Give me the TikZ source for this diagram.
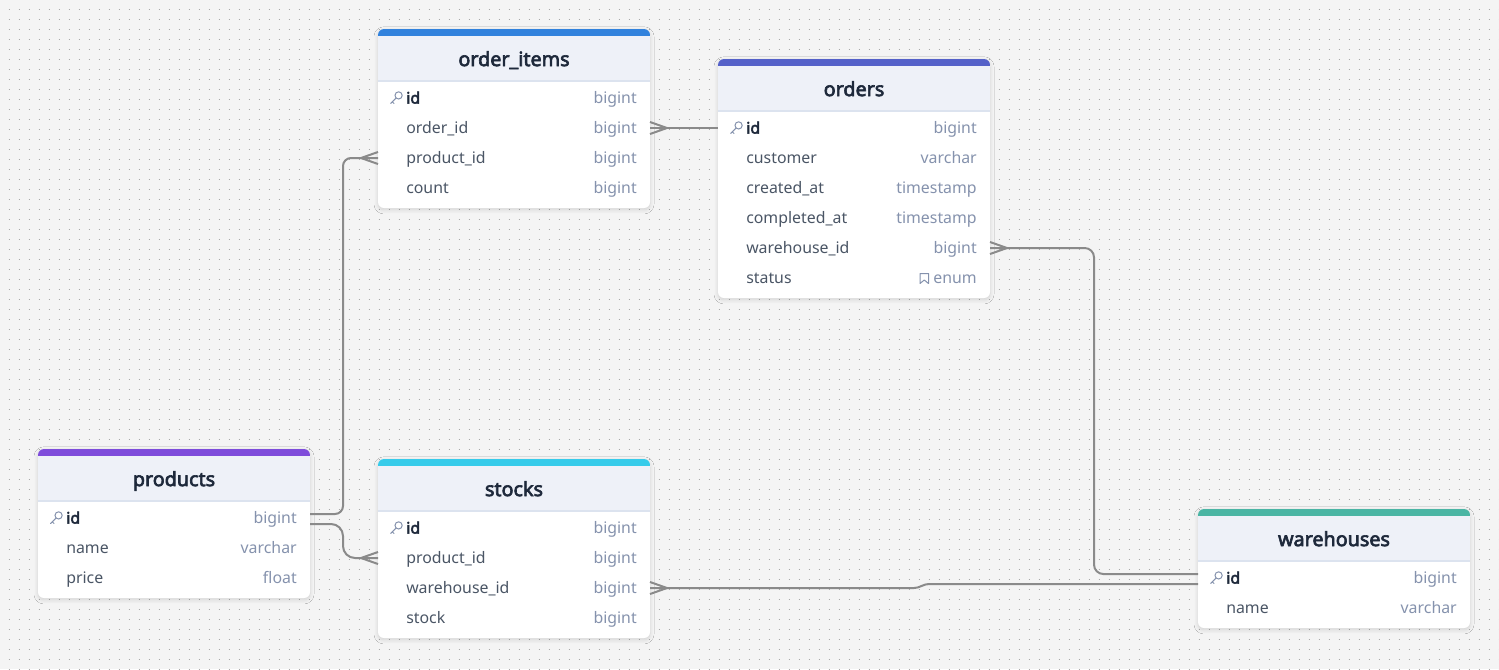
\documentclass[tikz,border=0pt]{standalone}
\usepackage{fontspec}
\setmainfont{Noto Sans}[AutoFakeBold=3.2]
\usetikzlibrary{shadows.blur}

\definecolor{canvasbg}{HTML}{F4F4F4}
\definecolor{dotcol}{HTML}{A8A8A8}
\definecolor{headbg}{HTML}{EEF1F8}
\definecolor{sepcol}{HTML}{DCE3EF}
\definecolor{titlecol}{HTML}{1E293B}
\definecolor{fieldcol}{HTML}{4A5565}
\definecolor{typecol}{HTML}{8592AD}
\definecolor{linkcol}{HTML}{8A8A8A}
\definecolor{oiblue}{HTML}{3182DD}
\definecolor{ordindigo}{HTML}{5461C9}
\definecolor{prodpurple}{HTML}{7E4CDB}
\definecolor{stkcyan}{HTML}{36CBEA}
\definecolor{whteal}{HTML}{4AB5A4}

\begin{document}
\begin{tikzpicture}[
        x=0.75pt, y=-0.75pt,
        tablebox/.style={fill=white, rounded corners=4.5pt,
            blur shadow={shadow xshift=0pt, shadow yshift=-1.4pt,
                shadow blur radius=3pt, shadow blur steps=8, shadow opacity=14}},
        tabletitle/.style={anchor=mid, inner sep=0pt, text=titlecol,
            font=\fontsize{14.8}{17}\selectfont\bfseries},
        fname/.style={anchor=mid west, inner sep=0pt, text=fieldcol,
            font=\fontsize{11.9}{14}\selectfont},
        pkname/.style={fname, text=titlecol, font=\fontsize{11.9}{14}\selectfont\bfseries},
        ftype/.style={anchor=mid east, inner sep=0pt, text=typecol,
            font=\fontsize{11.9}{14}\selectfont},
        link/.style={draw=linkcol, line width=1.5pt},
        keyicon/.pic={
            \draw[typecol, line width=0.75pt] (20.6,-2.6) circle (3.6);
            \draw[typecol, line width=0.75pt, line cap=round] (18.1,0) -- (12.6,5.5) (14.3,3.8) -- (16,5.5);
        }
        ]
    \useasboundingbox (0,0) rectangle (1499,669);
    \fill[canvasbg] (0,0) rectangle (1499,669);
    % dotted canvas
    \foreach \y in {9,19,...,669}
        \draw[dotcol, line width=0.75pt, dash pattern=on 0.75pt off 6.75pt] (8.5,\y) -- (1499,\y);

    % order_items
    \begin{scope}[shift={(378,29)}]
        \path[tablebox] (0,0) rectangle (272,179);
        \begin{scope}
            \clip[rounded corners=4.5pt] (0,0) rectangle (272,179);
            \fill[oiblue] (0,0) rectangle (272,7);
            \fill[headbg] (0,7) rectangle (272,52);
            \draw[sepcol, line width=1.2pt] (0,52) -- (272,52);
        \end{scope}
        \node[tabletitle] (oi-title) at (136,33.5) {order\_items};
        \pic at (0,69) {keyicon};
        \node[pkname] (oi-id) at (28,71) {id};
        \node[ftype] (oi-id-t) at (259,71) {bigint};
        \node[fname] (oi-ordid) at (28,101) {order\_id};
        \node[ftype] (oi-ordid-t) at (259,101) {bigint};
        \node[fname] (oi-prodid) at (28,131) {product\_id};
        \node[ftype] (oi-prodid-t) at (259,131) {bigint};
        \node[fname] (oi-count) at (28,161) {count};
        \node[ftype] (oi-count-t) at (259,161) {bigint};
        \coordinate (oi-order) at (272,99);
        \coordinate (oi-product) at (0,129);
    \end{scope}

    % orders
    \begin{scope}[shift={(718,59)}]
        \path[tablebox] (0,0) rectangle (272,239);
        \begin{scope}
            \clip[rounded corners=4.5pt] (0,0) rectangle (272,239);
            \fill[ordindigo] (0,0) rectangle (272,7);
            \fill[headbg] (0,7) rectangle (272,52);
            \draw[sepcol, line width=1.2pt] (0,52) -- (272,52);
        \end{scope}
        \node[tabletitle] (ord-title) at (136,33.5) {orders};
        \pic at (0,69) {keyicon};
        \node[pkname] (ord-id) at (28,71) {id};
        \node[ftype] (ord-id-t) at (259,71) {bigint};
        \node[fname] (ord-cust) at (28,101) {customer};
        \node[ftype] (ord-cust-t) at (259,101) {varchar};
        \node[fname] (ord-created) at (28,131) {created\_at};
        \node[ftype] (ord-created-t) at (259,131) {timestamp};
        \node[fname] (ord-done) at (28,161) {completed\_at};
        \node[ftype] (ord-done-t) at (259,161) {timestamp};
        \node[fname] (ord-whid) at (28,191) {warehouse\_id};
        \node[ftype] (ord-whid-t) at (259,191) {bigint};
        \node[fname] (ord-status) at (28,221) {status};
        \node[ftype] (ord-status-t) at (259,221) {enum};
        \draw[typecol, line width=0.75pt, line join=round] (202,224.5) -- (202,214.5) -- (210.5,214.5) -- (210.5,224.5) -- (206.25,221) -- cycle;
        \coordinate (ord-idl) at (0,69);
        \coordinate (ord-wh) at (272,189);
    \end{scope}

    % products
    \begin{scope}[shift={(38,449)}]
        \path[tablebox] (0,0) rectangle (272,149);
        \begin{scope}
            \clip[rounded corners=4.5pt] (0,0) rectangle (272,149);
            \fill[prodpurple] (0,0) rectangle (272,7);
            \fill[headbg] (0,7) rectangle (272,52);
            \draw[sepcol, line width=1.2pt] (0,52) -- (272,52);
        \end{scope}
        \node[tabletitle] (prod-title) at (136,33.5) {products};
        \pic at (0,69) {keyicon};
        \node[pkname] (prod-id) at (28,71) {id};
        \node[ftype] (prod-id-t) at (259,71) {bigint};
        \node[fname] (prod-name) at (28,101) {name};
        \node[ftype] (prod-name-t) at (259,101) {varchar};
        \node[fname] (prod-price) at (28,131) {price};
        \node[ftype] (prod-price-t) at (259,131) {float};
        \coordinate (prod-id-a) at (272,65);
        \coordinate (prod-id-b) at (272,75);
    \end{scope}

    % stocks
    \begin{scope}[shift={(378,459)}]
        \path[tablebox] (0,0) rectangle (272,179);
        \begin{scope}
            \clip[rounded corners=4.5pt] (0,0) rectangle (272,179);
            \fill[stkcyan] (0,0) rectangle (272,7);
            \fill[headbg] (0,7) rectangle (272,52);
            \draw[sepcol, line width=1.2pt] (0,52) -- (272,52);
        \end{scope}
        \node[tabletitle] (stk-title) at (136,33.5) {stocks};
        \pic at (0,69) {keyicon};
        \node[pkname] (stk-id) at (28,71) {id};
        \node[ftype] (stk-id-t) at (259,71) {bigint};
        \node[fname] (stk-prodid) at (28,101) {product\_id};
        \node[ftype] (stk-prodid-t) at (259,101) {bigint};
        \node[fname] (stk-whid) at (28,131) {warehouse\_id};
        \node[ftype] (stk-whid-t) at (259,131) {bigint};
        \node[fname] (stk-stock) at (28,161) {stock};
        \node[ftype] (stk-stock-t) at (259,161) {bigint};
        \coordinate (stk-product) at (0,99);
        \coordinate (stk-wh) at (272,129);
    \end{scope}

    % warehouses
    \begin{scope}[shift={(1198,509)}]
        \path[tablebox] (0,0) rectangle (272,119);
        \begin{scope}
            \clip[rounded corners=4.5pt] (0,0) rectangle (272,119);
            \fill[whteal] (0,0) rectangle (272,7);
            \fill[headbg] (0,7) rectangle (272,52);
            \draw[sepcol, line width=1.2pt] (0,52) -- (272,52);
        \end{scope}
        \node[tabletitle] (wh-title) at (136,33.5) {warehouses};
        \pic at (0,69) {keyicon};
        \node[pkname] (wh-id) at (28,71) {id};
        \node[ftype] (wh-id-t) at (259,71) {bigint};
        \node[fname] (wh-name) at (28,101) {name};
        \node[ftype] (wh-name-t) at (259,101) {varchar};
        \coordinate (wh-id-a) at (0,65);
        \coordinate (wh-id-b) at (0,75);
    \end{scope}

    % relations
    \draw[link] (oi-order) -- (ord-idl);
    \draw[link] ([yshift=4.5pt]oi-order) -- ([xshift=12.75pt]oi-order) -- ([yshift=-4.5pt]oi-order);

    \draw[link, rounded corners=6pt] (prod-id-a) -- ++(33,0) |- (oi-product);
    \draw[link] ([yshift=4.5pt]oi-product) -- ([xshift=-12.75pt]oi-product) -- ([yshift=-4.5pt]oi-product);

    \draw[link, rounded corners=9pt] (prod-id-b) -- ++(33,0) |- (stk-product);
    \draw[link] ([yshift=4.5pt]stk-product) -- ([xshift=-12.75pt]stk-product) -- ([yshift=-4.5pt]stk-product);

    \draw[link, rounded corners=7pt] (ord-wh) -- ++(104,0) |- (wh-id-a);
    \draw[link] ([yshift=4.5pt]ord-wh) -- ([xshift=12.75pt]ord-wh) -- ([yshift=-4.5pt]ord-wh);

    \draw[link, rounded corners=3pt] (stk-wh) -- ++(268,0) -- ++(7,-4) -- (wh-id-b);
    \draw[link] ([yshift=4.5pt]stk-wh) -- ([xshift=12.75pt]stk-wh) -- ([yshift=-4.5pt]stk-wh);
\end{tikzpicture}
\end{document}
